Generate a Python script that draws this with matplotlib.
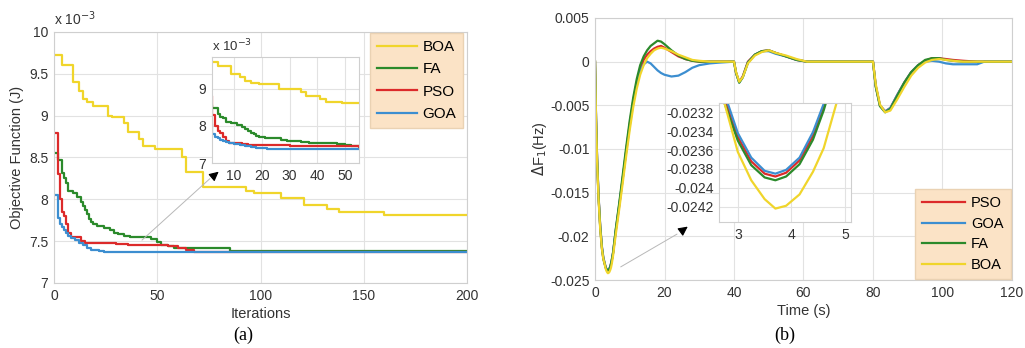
import numpy as np
import matplotlib.pyplot as plt
from matplotlib.ticker import FuncFormatter

plt.rcParams['font.family'] = ['Liberation Sans', 'DejaVu Sans']

# ---- (a) convergence curves, breakpoints of the step curves (x 1e-3)
boa_it = [1, 4, 9, 12, 14, 16, 19, 26, 28, 34, 36, 41, 43, 49, 62, 64, 72, 93, 97, 110, 121, 132, 138, 160, 200]
boa_j = [9.72, 9.6, 9.4, 9.3, 9.2, 9.16, 9.12, 9.0, 8.98, 8.91, 8.8, 8.72, 8.64, 8.6, 8.5, 8.33, 8.15,
         8.1, 8.07, 8.02, 7.93, 7.88, 7.85, 7.81, 7.81]
fa_it = [1, 2, 4, 5, 6, 7, 9, 11, 13, 14, 15, 16, 17, 18, 19, 21, 24, 27, 29, 31, 34, 37, 47, 50, 52, 55, 58, 85, 200]
fa_j = [8.55, 8.47, 8.31, 8.25, 8.2, 8.1, 8.07, 8.03, 7.97, 7.92, 7.87, 7.82, 7.77, 7.73, 7.7, 7.68, 7.66,
        7.63, 7.6, 7.58, 7.56, 7.55, 7.52, 7.49, 7.46, 7.44, 7.42, 7.38, 7.38]
pso_it = [1, 2, 3, 4, 5, 6, 7, 8, 13, 15, 30, 36, 55, 60, 64, 68, 200]
pso_j = [8.79, 8.3, 8.0, 7.85, 7.8, 7.7, 7.6, 7.55, 7.5, 7.48, 7.47, 7.45, 7.44, 7.42, 7.39, 7.37, 7.37]
goa_it = [1, 2, 3, 4, 5, 6, 7, 8, 10, 12, 14, 16, 18, 20, 22, 24, 200]
goa_j = [8.05, 7.78, 7.7, 7.67, 7.63, 7.6, 7.56, 7.54, 7.51, 7.48, 7.45, 7.42, 7.4, 7.39, 7.38, 7.37, 7.37]

# ---- (b) frequency deviation dF1 (Hz) vs time (s)
t = [0, 0.3, 0.6, 1.0, 1.5, 2.0, 2.4,
     2.75, 3.0, 3.25, 3.5, 3.7, 3.9, 4.15, 4.4, 4.6, 4.85,
     5.2, 6, 7, 8, 9, 10, 11, 12, 13,
     14, 15, 16, 17, 18, 19, 20, 22, 24, 26, 28, 30, 33, 36,
     40, 40.6, 41.5, 42.5, 44, 46, 48, 50, 52, 55, 58, 61,
     80, 80.8, 82, 83.5, 85, 87, 89, 91, 93, 95, 97, 99, 101, 103, 106, 110, 112, 120]
pso_f = [0, -0.0066, -0.0111, -0.0153, -0.0189, -0.0213, -0.0225,
         -0.02304, -0.02346, -0.02372, -0.02385, -0.02388, -0.02384, -0.02371, -0.02345, -0.02314, -0.0227,
         -0.0219, -0.0193, -0.0164, -0.0133, -0.0101, -0.0071, -0.0045, -0.0024, -0.0009,
         0.0002, 0.0008, 0.0012, 0.0015, 0.0017, 0.0018, 0.0016, 0.0011, 0.0006, 0.0003, 0.0001, 0.0, 0.0, 0.0,
         0.0, -0.0013, -0.0023, -0.0017, 0.0, 0.0008, 0.0012, 0.0013, 0.0010, 0.0006, 0.0002, 0.0,
         0.0, -0.0028, -0.0050, -0.0057, -0.0053, -0.0038, -0.0024, -0.0012, -0.0004, 0.0001, 0.0004, 0.0004,
         0.0003, 0.0002, 0.0001, 0.0, 0.0, 0.0]
goa_f = [0, -0.0065, -0.0110, -0.0152, -0.0188, -0.0212, -0.0224,
         -0.02300, -0.02342, -0.02368, -0.02382, -0.02385, -0.02381, -0.02368, -0.02341, -0.02311, -0.0226,
         -0.0218, -0.0192, -0.0163, -0.0133, -0.0102, -0.0073, -0.0047, -0.0026, -0.0011,
         -0.0003, 0.0, -0.0002, -0.0006, -0.0010, -0.0013, -0.0015, -0.0017, -0.0016, -0.0012, -0.0007, -0.0004, -0.0002, -0.0001,
         0.0, -0.0013, -0.0024, -0.0018, -0.0001, 0.0008, 0.0012, 0.0012, 0.0009, 0.0006, 0.0002, 0.0,
         0.0, -0.0028, -0.0050, -0.0057, -0.0053, -0.0038, -0.0024, -0.0012, -0.0004, 0.0, 0.0001, 0.0,
         -0.0002, -0.0003, -0.0003, -0.0003, 0.0, 0.0]
fa_f = [0, -0.0066, -0.0112, -0.0154, -0.0190, -0.0214, -0.0226,
        -0.02310, -0.02350, -0.02376, -0.02389, -0.02392, -0.02388, -0.02375, -0.02349, -0.02318, -0.0227,
        -0.0219, -0.0191, -0.0161, -0.0129, -0.0097, -0.0067, -0.0041, -0.0020, -0.0004,
        0.0006, 0.0013, 0.0018, 0.0021, 0.0024, 0.0023, 0.0020, 0.0013, 0.0007, 0.0003, 0.0001, 0.0, 0.0, 0.0,
        0.0, -0.0013, -0.0024, -0.0018, -0.0001, 0.0008, 0.0012, 0.0013, 0.0010, 0.0006, 0.0002, 0.0,
        0.0, -0.0029, -0.0051, -0.0058, -0.0054, -0.0039, -0.0024, -0.0012, -0.0004, 0.0002, 0.0004, 0.0004,
        0.0002, 0.0001, 0.0, 0.0, 0.0, 0.0]
boa_f = [0, -0.0068, -0.0114, -0.0156, -0.0192, -0.0215, -0.0226,
         -0.02310, -0.02362, -0.02392, -0.02412, -0.02422, -0.02419, -0.02407, -0.02383, -0.02358, -0.02308,
         -0.0222, -0.0197, -0.0168, -0.0138, -0.0107, -0.0078, -0.0052, -0.0031, -0.0015,
         -0.0004, 0.0004, 0.0009, 0.0013, 0.0015, 0.0016, 0.0015, 0.0012, 0.0008, 0.0005, 0.0002, 0.0001, 0.0, 0.0,
         0.0, -0.0012, -0.0023, -0.0018, -0.0002, 0.0007, 0.0011, 0.0013, 0.0010, 0.0007, 0.0003, 0.0,
         0.0, -0.0026, -0.0049, -0.0058, -0.0056, -0.0043, -0.0029, -0.0016, -0.0007, -0.0001, 0.0002, 0.0003,
         0.0002, 0.0001, 0.0, 0.0, 0.0, 0.0]

c_boa = '#F0D52B'
c_fa = '#2B8A2B'
c_pso = '#DC2A2A'
c_goa = '#3C8ED0'
txt = '#333333'
fmt = FuncFormatter(lambda v, p: '%g' % round(v, 6))


def style(ax, fs=10):
    ax.grid(True, color='#e2e2e2', lw=0.8)
    ax.set_axisbelow(True)
    for s in ax.spines.values():
        s.set_color('#cfcfcf')
        s.set_linewidth(0.8)
    ax.tick_params(length=0, labelsize=fs, colors=txt, pad=4)
    ax.xaxis.set_major_formatter(fmt)
    ax.yaxis.set_major_formatter(fmt)


fig = plt.figure(figsize=(10.25, 3.48), dpi=100)

# ---------------- (a)
ax1 = fig.add_axes([0.0527, 0.1868, 0.4029, 0.7213])
ax1.step(boa_it, boa_j, where='post', color=c_boa, lw=1.6, label='BOA')
ax1.step(fa_it, fa_j, where='post', color=c_fa, lw=1.6, label='FA')
ax1.step(pso_it, pso_j, where='post', color=c_pso, lw=1.6, label='PSO')
ax1.step(goa_it, goa_j, where='post', color=c_goa, lw=1.6, label='GOA')
ax1.set_xlim(0, 200)
ax1.set_ylim(7, 10)
ax1.set_xticks([0, 50, 100, 150, 200])
ax1.set_yticks(np.arange(7, 10.01, 0.5))
style(ax1)
ax1.set_xlabel('Iterations', fontsize=10.5, color=txt, labelpad=3)
ax1.set_ylabel('Objective Function (J)', fontsize=10.5, color=txt, labelpad=4)
ax1.text(0.0, 1.015, r'x 10$^{-3}$', transform=ax1.transAxes, fontsize=10, color=txt,
         ha='left', va='bottom')
leg1 = ax1.legend(loc='upper right', bbox_to_anchor=(0.4517, 0.9052), bbox_transform=fig.transFigure,
                  borderaxespad=0, fontsize=11, handlelength=2.6, handletextpad=0.35,
                  labelspacing=0.55, borderpad=0.45, fancybox=False, framealpha=1)
leg1.get_frame().set_facecolor('#FBE3C6')
leg1.get_frame().set_edgecolor('#ead2b3')

axi1 = fig.add_axes([0.2068, 0.5316, 0.1434, 0.3046])
axi1.step(boa_it, boa_j, where='post', color=c_boa, lw=1.6)
axi1.step(fa_it, fa_j, where='post', color=c_fa, lw=1.6)
axi1.step(pso_it, pso_j, where='post', color=c_pso, lw=1.6)
axi1.step(goa_it, goa_j, where='post', color=c_goa, lw=1.6)
axi1.set_xlim(2, 55)
axi1.set_ylim(7, 9.85)
axi1.set_xticks([10, 20, 30, 40, 50])
axi1.set_yticks([7, 8, 9])
style(axi1)
axi1.text(0.0, 1.03, r'x 10$^{-3}$', transform=axi1.transAxes, fontsize=9.5, color=txt,
          ha='left', va='bottom')

ax1.annotate('', xy=(0.0, -0.13), xycoords=axi1.transAxes, xytext=(41.6, 7.49),
             textcoords='data', arrowprops=dict(arrowstyle='-', color='#b8b8b8', lw=0.7))
axi1.annotate('', xy=(0.06, -0.065), xycoords='axes fraction', xytext=(0.0, -0.135),
              textcoords='axes fraction',
              arrowprops=dict(arrowstyle='-|>', color='black', lw=0.8, mutation_scale=14),
              annotation_clip=False)

# ---------------- (b)
ax2 = fig.add_axes([0.5805, 0.1954, 0.4068, 0.7529])
for vals, col, lab in [(pso_f, c_pso, 'PSO'), (goa_f, c_goa, 'GOA'), (fa_f, c_fa, 'FA'), (boa_f, c_boa, 'BOA')]:
    ax2.plot(t, vals, color=col, lw=1.6, label=lab)
ax2.set_xlim(0, 120)
ax2.set_ylim(-0.025, 0.005)
ax2.set_xticks(np.arange(0, 121, 20))
ax2.set_yticks(np.round(np.arange(-0.025, 0.0051, 0.005), 3))
style(ax2)
ax2.set_xlabel('Time (s)', fontsize=10.5, color=txt, labelpad=3)
ax2.set_ylabel(r'$\Delta$F$_1$(Hz)', fontsize=10.5, color=txt, labelpad=1)
leg2 = ax2.legend(loc='lower right', bbox_to_anchor=(0.9863, 0.1983), bbox_transform=fig.transFigure,
                  borderaxespad=0, fontsize=10.5, handlelength=2.9, handletextpad=0.45,
                  labelspacing=0.44, borderpad=0.5, fancybox=False, framealpha=1)
leg2.get_frame().set_facecolor('#FBE3C6')
leg2.get_frame().set_edgecolor('#ead2b3')

axi2 = fig.add_axes([0.7015, 0.3621, 0.1288, 0.3420])
for vals, col in [(pso_f, c_pso), (goa_f, c_goa), (fa_f, c_fa), (boa_f, c_boa)]:
    axi2.plot(t, vals, color=col, lw=1.6)
axi2.set_xlim(2.65, 5.11)
axi2.set_ylim(-0.024362, -0.023101)
axi2.set_xticks([3, 4, 5])
axi2.set_yticks(np.round(np.arange(-0.0242, -0.02319, 0.0002), 4))
style(axi2)

ax2.annotate('', xy=(-0.30, -0.09), xycoords=axi2.transAxes, xytext=(6.7, -0.02366),
             textcoords='data', arrowprops=dict(arrowstyle='-', color='#b8b8b8', lw=0.7))
axi2.annotate('', xy=(-0.22, -0.025), xycoords='axes fraction', xytext=(-0.30, -0.09),
              textcoords='axes fraction',
              arrowprops=dict(arrowstyle='-|>', color='black', lw=0.8, mutation_scale=14),
              annotation_clip=False)

fig.text(0.237, 0.035, '(a)', fontsize=13, family='Liberation Serif', ha='center', va='center')
fig.text(0.766, 0.035, '(b)', fontsize=13, family='Liberation Serif', ha='center', va='center')

fig.savefig('out.png', dpi=100)
